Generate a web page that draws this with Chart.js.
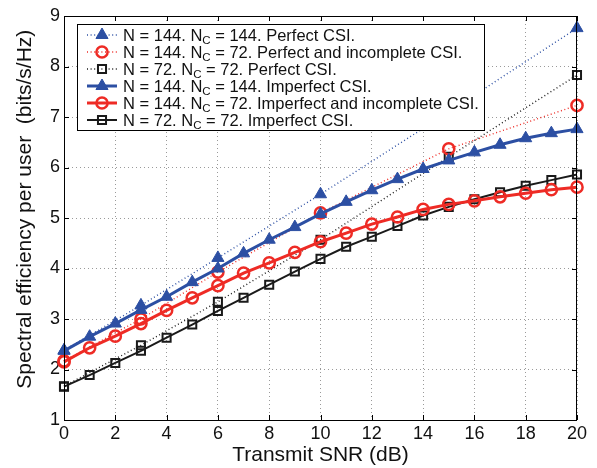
<!DOCTYPE html>
<html>
<head>
<meta charset="utf-8">
<script src="https://cdn.jsdelivr.net/npm/chart.js@4.4.1/dist/chart.umd.min.js"></script>
<style>
  html, body { margin: 0; padding: 0; background: #fff; }
  #wrap { width: 597px; height: 468px; }
</style>
</head>
<body>
<div id="wrap"><canvas id="chart" width="597" height="468"></canvas></div>
<script>
// Data
const snrAll = [0, 1, 2, 3, 4, 5, 6, 7, 8, 9, 10, 11, 12, 13, 14, 15, 16, 17, 18, 19, 20];
const snrPerfect = [0, 3, 6, 10, 15, 20];

const perfect144 = [2.38, 3.27, 4.21, 5.47, 7.10, 8.76];
const perfect144nc72 = [2.17, 3.00, 3.93, 5.10, 6.37, 7.23];
const perfect72 = [1.67, 2.48, 3.34, 4.57, 6.21, 7.83];

const imperfect144 = [2.37, 2.65, 2.91, 3.18, 3.44, 3.73, 4.00, 4.30, 4.57, 4.82, 5.08, 5.32, 5.55, 5.77, 5.97, 6.14, 6.30, 6.45, 6.58, 6.68, 6.76];
const imperfect144nc72 = [2.15, 2.43, 2.66, 2.91, 3.17, 3.42, 3.66, 3.91, 4.11, 4.32, 4.53, 4.70, 4.88, 5.02, 5.17, 5.27, 5.34, 5.42, 5.49, 5.56, 5.61];
const imperfect72 = [1.66, 1.89, 2.13, 2.37, 2.63, 2.89, 3.16, 3.42, 3.68, 3.94, 4.19, 4.43, 4.63, 4.84, 5.05, 5.22, 5.37, 5.51, 5.64, 5.75, 5.86];

const legendLabels = [
    'N = 144. N_C = 144. Perfect CSI.',
    'N = 144. N_C = 72. Perfect and incomplete CSI.',
    'N = 72. N_C = 72. Perfect CSI.',
    'N = 144. N_C = 144. Imperfect CSI.',
    'N = 144. N_C = 72. Imperfect and incomplete CSI.',
    'N = 72. N_C = 72. Imperfect CSI.'
];

const xTicks = [0, 2, 4, 6, 8, 10, 12, 14, 16, 18, 20];
const yTicks = [1, 2, 3, 4, 5, 6, 7, 8, 9];

const BLUE = '#2c4fa3';
const RED = '#ee2b25';
const BLACK = '#1a1a1a';
const FONT = "'Liberation Sans', Arial, Helvetica, sans-serif";

function toPoints(xs, ys) {
    return xs.map((x, i) => ({ x: x, y: ys[i] }));
}

// Marker styles per series (used by datasets and by the legend)
const styles = [
    { color: BLUE, marker: 'triangle', radius: 7, fill: true, dotted: true, width: 1.4, pointWidth: 1 },
    { color: RED, marker: 'circle', radius: 5.6, fill: false, dotted: true, width: 1.4, pointWidth: 2.5 },
    { color: BLACK, marker: 'rect', radius: 5.7, fill: false, dotted: true, width: 1.4, pointWidth: 2 },
    { color: BLUE, marker: 'triangle', radius: 7, fill: true, dotted: false, width: 3, pointWidth: 1 },
    { color: RED, marker: 'circle', radius: 5.6, fill: false, dotted: false, width: 3, pointWidth: 2.5 },
    { color: BLACK, marker: 'rect', radius: 5.7, fill: false, dotted: false, width: 2, pointWidth: 2 }
];

const seriesData = [
    toPoints(snrPerfect, perfect144),
    toPoints(snrPerfect, perfect144nc72),
    toPoints(snrPerfect, perfect72),
    toPoints(snrAll, imperfect144),
    toPoints(snrAll, imperfect144nc72),
    toPoints(snrAll, imperfect72)
];

const DOTS = [1, 2.6];

const datasets = seriesData.map((data, i) => {
    const s = styles[i];
    return {
        label: legendLabels[i],
        data: data,
        borderColor: s.color,
        borderWidth: s.width,
        borderDash: s.dotted ? DOTS : [],
        pointStyle: s.marker,
        pointRadius: s.radius,
        pointHoverRadius: s.radius,
        pointBorderColor: s.color,
        pointBackgroundColor: s.fill ? s.color : 'rgba(0,0,0,0)',
        pointBorderWidth: s.pointWidth,
        tension: 0,
        fill: false,
        clip: false,
        // imperfect curves sit on top of the perfect ones
        order: s.dotted ? 2 : 1
    };
});

function drawMarker(ctx, s, x, y) {
    ctx.save();
    ctx.setLineDash([]);
    ctx.lineWidth = s.pointWidth;
    ctx.strokeStyle = s.color;
    ctx.fillStyle = s.fill ? s.color : 'rgba(0,0,0,0)';
    ctx.beginPath();
    const r = s.radius;
    if (s.marker === 'triangle') {
        ctx.moveTo(x, y - r);
        ctx.lineTo(x + Math.sin(2 * Math.PI / 3) * r, y + r / 2);
        ctx.lineTo(x - Math.sin(2 * Math.PI / 3) * r, y + r / 2);
        ctx.closePath();
    } else if (s.marker === 'circle') {
        ctx.arc(x, y, r, 0, Math.PI * 2);
    } else {
        const h = Math.SQRT1_2 * r;
        ctx.rect(x - h, y - h, 2 * h, 2 * h);
    }
    ctx.fill();
    ctx.stroke();
    ctx.restore();
}

// Boxed legend inside the plot, covering the lines behind it
const boxLegend = {
    id: 'boxLegend',
    afterDatasetsDraw(chart) {
        const { ctx, chartArea: a } = chart;
        const left = a.left + 13, top = a.top + 8, w = 407, h = 106;
        ctx.save();
        ctx.fillStyle = '#fff';
        ctx.fillRect(left, top, w, h);
        ctx.strokeStyle = '#000';
        ctx.lineWidth = 1;
        ctx.strokeRect(left + 0.5, top + 0.5, w, h);

        legendLabels.forEach((label, i) => {
            const s = styles[i];
            const y = top + 11 + i * 17;
            // line sample
            ctx.save();
            ctx.strokeStyle = s.color;
            ctx.lineWidth = s.width;
            ctx.setLineDash(s.dotted ? DOTS : []);
            ctx.beginPath();
            ctx.moveTo(left + 10, y);
            ctx.lineTo(left + 40, y);
            ctx.stroke();
            ctx.restore();
            drawMarker(ctx, s, left + 25, y);

            // text with subscript C
            const parts = label.split('_C');
            let tx = left + 46;
            const base = y + 6;
            ctx.fillStyle = '#111';
            ctx.textBaseline = 'alphabetic';
            ctx.textAlign = 'left';
            ctx.font = '16.5px ' + FONT;
            ctx.fillText(parts[0], tx, base);
            tx += ctx.measureText(parts[0]).width;
            ctx.font = '11.5px ' + FONT;
            ctx.fillText('C', tx, base + 3);
            tx += ctx.measureText('C').width;
            ctx.font = '16.5px ' + FONT;
            ctx.fillText(parts[1], tx, base);
        });
        ctx.restore();
    }
};

// Axes box with inward tick marks on all four sides
const axesBox = {
    id: 'axesBox',
    afterDraw(chart) {
        const { ctx, chartArea: a, scales } = chart;
        const xs = scales.x, ys = scales.y;
        ctx.save();
        ctx.strokeStyle = '#000';
        ctx.lineWidth = 1;
        ctx.setLineDash([]);
        ctx.beginPath();
        xs.ticks.forEach(t => {
            const px = Math.round(xs.getPixelForValue(t.value)) + 0.5;
            ctx.moveTo(px, a.bottom);
            ctx.lineTo(px, a.bottom - 5);
            ctx.moveTo(px, a.top);
            ctx.lineTo(px, a.top + 5);
        });
        ys.ticks.forEach(t => {
            const py = Math.round(ys.getPixelForValue(t.value)) + 0.5;
            ctx.moveTo(a.left, py);
            ctx.lineTo(a.left + 5, py);
            ctx.moveTo(a.right, py);
            ctx.lineTo(a.right - 5, py);
        });
        ctx.stroke();
        ctx.strokeRect(Math.round(a.left) + 0.5, Math.round(a.top) + 0.5,
            Math.round(a.right - a.left) - 1, Math.round(a.bottom - a.top));
        ctx.restore();
    }
};

Chart.defaults.font.family = FONT;
Chart.defaults.color = '#111';

new Chart(document.getElementById('chart'), {
    type: 'line',
    data: { datasets: datasets },
    options: {
        responsive: false,
        animation: false,
        devicePixelRatio: 1,
        events: [],
        layout: { padding: { left: 0, right: 20, top: 16, bottom: 0 } },
        plugins: {
            legend: { display: false },
            tooltip: { enabled: false }
        },
        scales: {
            x: {
                type: 'linear',
                min: 0,
                max: 20,
                afterBuildTicks: scale => { scale.ticks = xTicks.map(v => ({ value: v })); },
                afterFit: scale => { scale.height = 48; },
                ticks: { font: { size: 18 }, padding: 3, maxRotation: 0, color: '#111' },
                grid: { color: '#9a9a9a', lineWidth: 1, drawTicks: false },
                border: { display: false, dash: [1, 3] },
                title: {
                    display: true,
                    text: 'Transmit SNR (dB)',
                    font: { size: 21 },
                    color: '#111',
                    padding: { top: 0, bottom: 0 }
                }
            },
            y: {
                type: 'linear',
                min: 1,
                max: 9,
                afterBuildTicks: scale => { scale.ticks = yTicks.map(v => ({ value: v })); },
                afterFit: scale => { scale.width = 64; },
                ticks: { font: { size: 18 }, padding: 4, color: '#111' },
                grid: { color: '#9a9a9a', lineWidth: 1, drawTicks: false },
                border: { display: false, dash: [1, 3] },
                title: {
                    display: true,
                    text: '   Spectral efficiency per user  (bits/s/Hz)',
                    font: { size: 21 },
                    color: '#111',
                    padding: { top: 13, bottom: 0 }
                }
            }
        }
    },
    plugins: [boxLegend, axesBox]
});
</script>
</body>
</html>
